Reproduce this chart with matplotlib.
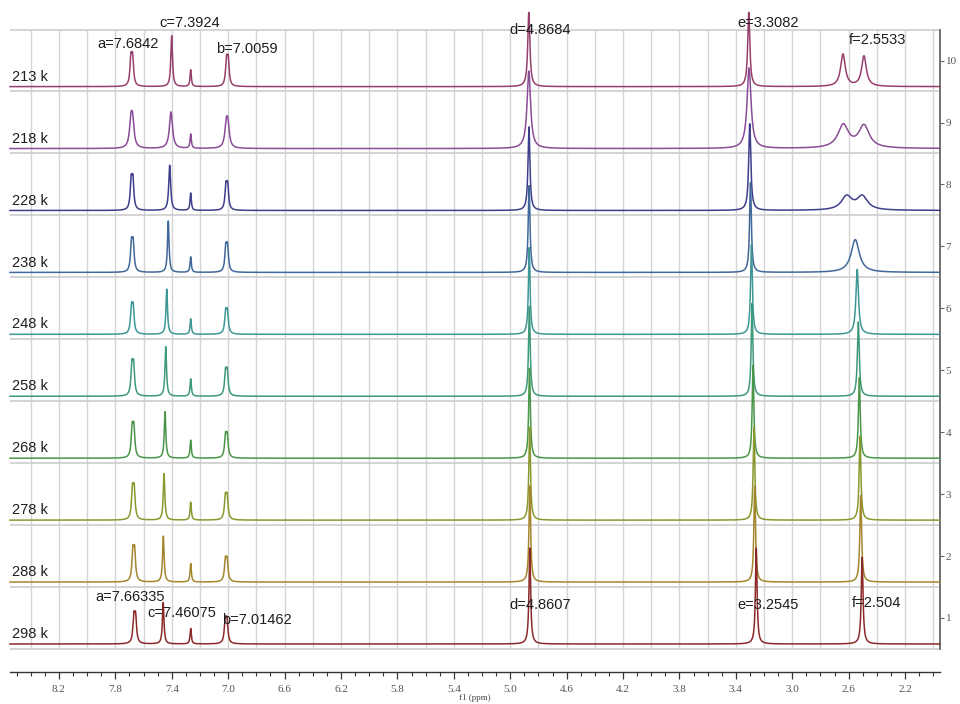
import numpy as np
import matplotlib.pyplot as plt

# ---- data ----
temps = ["213 k", "218 k", "228 k", "238 k", "248 k", "258 k", "268 k", "278 k", "288 k", "298 k"]
trace_no = ["10", "9", "8", "7", "6", "5", "4", "3", "2", "1"]
colors = ["#973f6c", "#8a4c96", "#3e3e8c", "#406898", "#3f9696",
          "#3e987a", "#4a9648", "#8a982e", "#a4862e", "#8c2a2a"]

# peak a (doublet)
a_pos = [7.684, 7.684, 7.682, 7.680, 7.680, 7.677, 7.675, 7.673, 7.670, 7.663]
a_h = [0.55, 0.50, 0.58, 0.56, 0.51, 0.59, 0.58, 0.59, 0.59, 0.52]
# peak c
c_pos = [7.401, 7.406, 7.415, 7.425, 7.436, 7.443, 7.448, 7.455, 7.460, 7.461]
c_h = [0.82, 0.59, 0.73, 0.83, 0.73, 0.80, 0.75, 0.75, 0.74, 0.67]
c_w = [0.014, 0.026, 0.016, 0.013, 0.013, 0.013, 0.013, 0.013, 0.013, 0.013]
# small peak next to c
s_pos = [7.266] * 10
s_h = [0.27, 0.23, 0.28, 0.25, 0.25, 0.28, 0.29, 0.29, 0.30, 0.25]
# peak b (doublet)
b_pos = [7.006, 7.008, 7.010, 7.011, 7.012, 7.013, 7.013, 7.014, 7.014, 7.015]
b_h = [0.51, 0.43, 0.47, 0.48, 0.42, 0.46, 0.42, 0.44, 0.41, 0.44]
# peak d
d_pos = [4.868, 4.868, 4.867, 4.866, 4.865, 4.864, 4.863, 4.862, 4.861, 4.861]
d_h = [1.20, 1.25, 1.35, 1.40, 1.40, 1.45, 1.45, 1.50, 1.55, 1.55]
d_w = [0.018, 0.030, 0.016, 0.015, 0.014, 0.014, 0.014, 0.014, 0.014, 0.014]
# peak e
e_pos = [3.308, 3.306, 3.301, 3.296, 3.289, 3.285, 3.278, 3.271, 3.266, 3.255]
e_h = [1.20, 1.30, 1.40, 1.45, 1.45, 1.50, 1.50, 1.50, 1.55, 1.55]
e_w = [0.018, 0.034, 0.018, 0.015, 0.015, 0.014, 0.014, 0.014, 0.014, 0.014]
# peak f (doublet at low T, one line at high T)
f1_pos = [2.640, 2.638, 2.614, 2.553, 2.539, 2.531, 2.524, 2.519, 2.514, 2.504]
f2_pos = [2.491, 2.491, 2.503, 2.553, 2.539, 2.531, 2.524, 2.519, 2.514, 2.504]
f1_h = [0.52, 0.37, 0.22, 0.53, 1.05, 1.20, 1.30, 1.35, 1.40, 1.40]
f2_h = [0.49, 0.36, 0.22, 0.0, 0.0, 0.0, 0.0, 0.0, 0.0, 0.0]
f_w = [0.040, 0.090, 0.090, 0.070, 0.022, 0.016, 0.015, 0.015, 0.015, 0.015]

# peak labels: (text, ppm, y)
labels_top = [("a=7.6842", 7.711, 9.69), ("c=7.3924", 7.271, 10.03),
              ("b=7.0059", 6.867, 9.61), ("d=4.8684", 4.789, 9.91),
              ("e=3.3082", 3.172, 10.03), ("f=2.5533", 2.392, 9.75)]
labels_bot = [("a=7.66335", 7.696, 0.76), ("c=7.46075", 7.328, 0.50),
              ("b=7.01462", 6.796, 0.39), ("d=4.8607", 4.789, 0.63),
              ("e=3.2545", 3.172, 0.63), ("f=2.504", 2.399, 0.66)]

X_LEFT, X_RIGHT = 8.5475, 1.9518
Y_LOW, Y_TOP = -0.097, 10.318
TOP_LINE = 9.91


def lorentz(x, x0, h, fwhm):
    return h / (1.0 + ((x - x0) / (fwhm / 2.0)) ** 2)


def doublet(x, x0, h, split=0.012, fwhm=0.016):
    comp = h / 1.3
    return lorentz(x, x0 + split / 2, comp, fwhm) + lorentz(x, x0 - split / 2, comp, fwhm)


ppm = np.linspace(X_LEFT, X_RIGHT, 14000)

fig = plt.figure(figsize=(9.6, 7.04), dpi=100)
ax = fig.add_axes([10 / 960, 1 - 650 / 704, 930 / 960, 645 / 704])
ax.set_xlim(X_LEFT, X_RIGHT)
ax.set_ylim(Y_LOW, Y_TOP)

n = len(temps)
baselines = [n - 1 - i for i in range(n)]

# vertical grid every 0.2 ppm
for g in np.arange(8.4, 1.99, -0.2):
    ax.vlines(g, Y_LOW, TOP_LINE, color="#d4d4d4", lw=1.0, zorder=1)
# band separators
ax.hlines([b - 0.076 for b in baselines] + [TOP_LINE], X_LEFT, X_RIGHT,
          color="#cdcdcd", lw=1.2, zorder=1)

for i in range(n):
    wide = 1.5 if i == 1 else 1.0
    y = (doublet(ppm, a_pos[i], a_h[i], fwhm=0.016 * wide)
         + lorentz(ppm, c_pos[i], c_h[i], c_w[i])
         + lorentz(ppm, s_pos[i], s_h[i], 0.011)
         + doublet(ppm, b_pos[i], b_h[i], fwhm=0.016 * wide)
         + lorentz(ppm, d_pos[i], d_h[i], d_w[i])
         + lorentz(ppm, e_pos[i], e_h[i], e_w[i])
         + lorentz(ppm, f1_pos[i], f1_h[i], f_w[i])
         + lorentz(ppm, f2_pos[i], f2_h[i], f_w[i]))
    ax.plot(ppm, baselines[i] + y, color=colors[i], lw=1.1, zorder=3 + i,
            clip_on=False)
    ax.text(8.53, baselines[i] + 0.16, temps[i], fontsize=10.5, color="#1e1e1e",
            family="Liberation Sans", ha="left", va="center", zorder=20)

for txt, xp, yp in labels_top + labels_bot:
    ax.text(xp, yp, txt, fontsize=10.5, color="#1e1e1e", family="Liberation Sans",
            ha="center", va="center", zorder=25)

# right-hand trace numbers
for s in ["top", "left", "bottom"]:
    ax.spines[s].set_visible(False)
ax.spines["right"].set_bounds(-0.076, TOP_LINE)
ax.spines["right"].set_color("#666666")
ax.spines["right"].set_linewidth(1.3)
ax.set_xticks([])
ax.yaxis.tick_right()
ax.set_yticks([b + 0.42 for b in baselines])
ax.set_yticklabels(trace_no, family="Liberation Serif", fontsize=8, color="#555555")
ax.tick_params(axis="y", direction="out", length=3, width=0.8, color="#666666", pad=1)

# ppm axis below the stack
ax2 = fig.add_axes([10 / 960, 1 - 672 / 704, 930 / 960, 0.0001])
ax2.set_xlim(X_LEFT, X_RIGHT)
ax2.set_yticks([])
for s in ["top", "left", "right"]:
    ax2.spines[s].set_visible(False)
ax2.spines["bottom"].set_color("#333333")
ax2.spines["bottom"].set_linewidth(1.0)
ax2.set_xticks(np.round(np.arange(8.2, 2.19, -0.4), 1))
ax2.set_xticklabels([f"{v:.1f}" for v in np.arange(8.2, 2.19, -0.4)],
                    family="Liberation Serif", fontsize=8, color="#555555")
ax2.set_xticks(np.arange(8.5, 1.95, -0.1), minor=True)
ax2.tick_params(axis="x", which="major", direction="out", length=5, width=0.9,
                color="#333333", pad=4)
ax2.tick_params(axis="x", which="minor", direction="out", length=3, width=0.8,
                color="#333333")
ax2.set_xlabel("f1 (ppm)", family="Liberation Serif", fontsize=6.5,
               color="#444444", labelpad=0)

fig.savefig("out.png", dpi=100)
